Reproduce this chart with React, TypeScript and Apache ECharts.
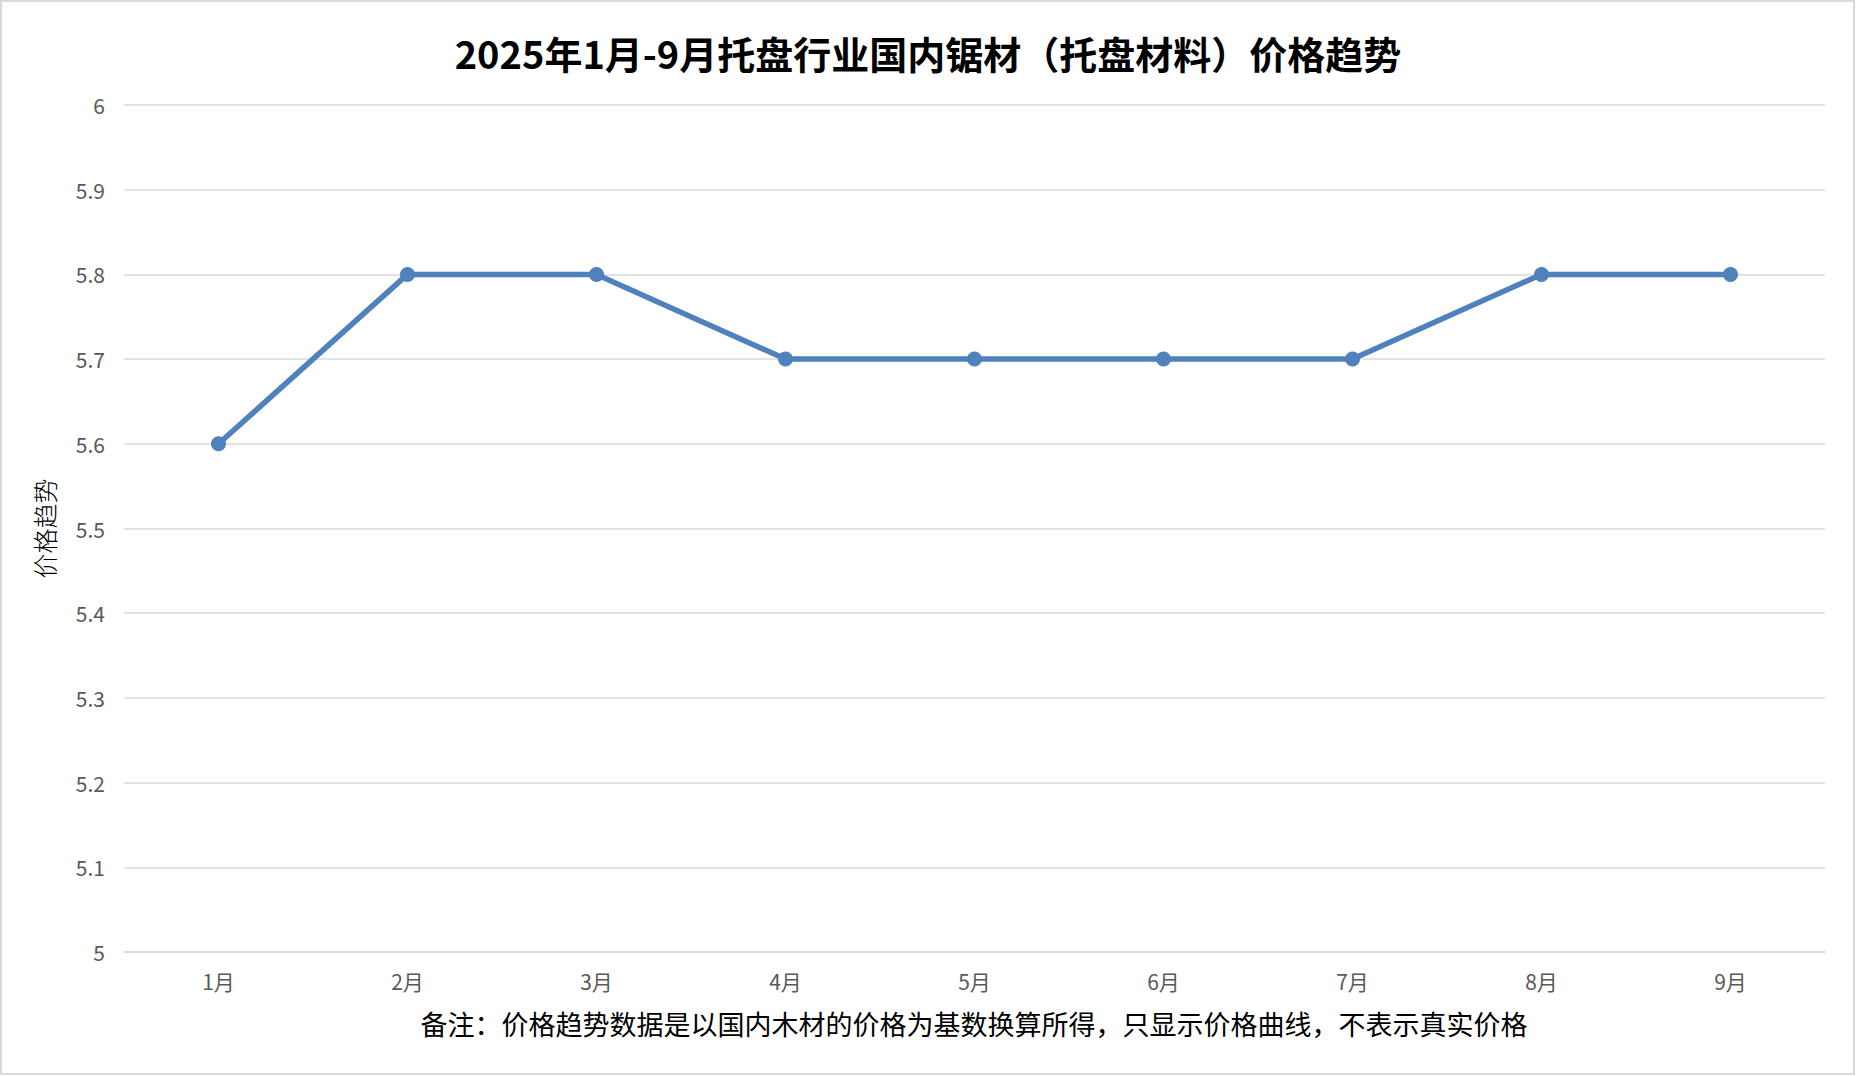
import React, { useEffect, useRef } from "react";
import * as echarts from "echarts";

const TITLE = "2025年1月-9月托盘行业国内锯材（托盘材料）价格趋势";
const NOTE = "备注：价格趋势数据是以国内木材的价格为基数换算所得，只显示价格曲线，不表示真实价格";
const Y_NAME = "价格趋势";
const months = ["1月", "2月", "3月", "4月", "5月", "6月", "7月", "8月", "9月"];
const prices = [5.6, 5.8, 5.8, 5.7, 5.7, 5.7, 5.7, 5.8, 5.8];
const yMin = 5;
const yMax = 6;
const yStep = 0.1;

const FONT = "'Noto Sans CJK SC', 'Noto Sans', sans-serif";

export default function App() {
  const ref = useRef<HTMLDivElement>(null);
  useEffect(() => {
    document.body.style.margin = "0";
    if (!ref.current) return;
    const chart = echarts.init(ref.current, undefined, { renderer: "svg" });
    chart.setOption({
      animation: false,
      backgroundColor: "#ffffff",
      textStyle: { fontFamily: FONT },
      title: {
        text: TITLE,
        left: "center",
        top: 28,
        textStyle: { fontFamily: FONT, fontSize: 38, fontWeight: "bold", color: "#000000" },
      },
      grid: { left: 124, right: 31, top: 105, bottom: 124, containLabel: false },
      xAxis: {
        type: "category",
        data: months,
        boundaryGap: true,
        axisLine: { show: true, lineStyle: { color: "#d9d9d9", width: 1.5 } },
        axisTick: { show: false },
        axisLabel: { color: "#595959", fontSize: 21, margin: 18, fontFamily: FONT },
      },
      yAxis: {
        type: "value",
        min: yMin,
        max: yMax,
        interval: yStep,
        name: Y_NAME,
        nameLocation: "middle",
        nameRotate: 90,
        nameGap: 68,
        nameTextStyle: { color: "#000000", fontSize: 25, fontFamily: FONT, fontWeight: 300 },
        axisLine: { show: false },
        axisTick: { show: false },
        axisLabel: {
          color: "#595959",
          fontSize: 21,
          margin: 19,
          fontFamily: FONT,
          formatter: (v: number) => String(Math.round(v * 10) / 10),
        },
        splitLine: { show: true, lineStyle: { color: "#d9d9d9", width: 1.5 } },
      },
      series: [
        {
          type: "line",
          data: prices,
          symbol: "circle",
          symbolSize: 15,
          lineStyle: { color: "#4F81BD", width: 5.5 },
          itemStyle: { color: "#4F81BD" },
        },
      ],
      graphic: [
        {
          type: "rect",
          shape: { x: 1, y: 1, width: 1853, height: 1073 },
          style: { fill: "none", stroke: "#d9d9d9", lineWidth: 2 },
          silent: true,
          z: 100,
        },
        {
          type: "text",
          x: 974,
          y: 1023,
          style: {
            text: NOTE,
            fontSize: 27,
            fontFamily: FONT,
            fill: "#000000",
            textAlign: "center",
            textVerticalAlign: "middle",
          },
        },
      ],
    });
    return () => chart.dispose();
  }, []);
  return <div ref={ref} style={{ width: 1856, height: 1076 }} />;
}
